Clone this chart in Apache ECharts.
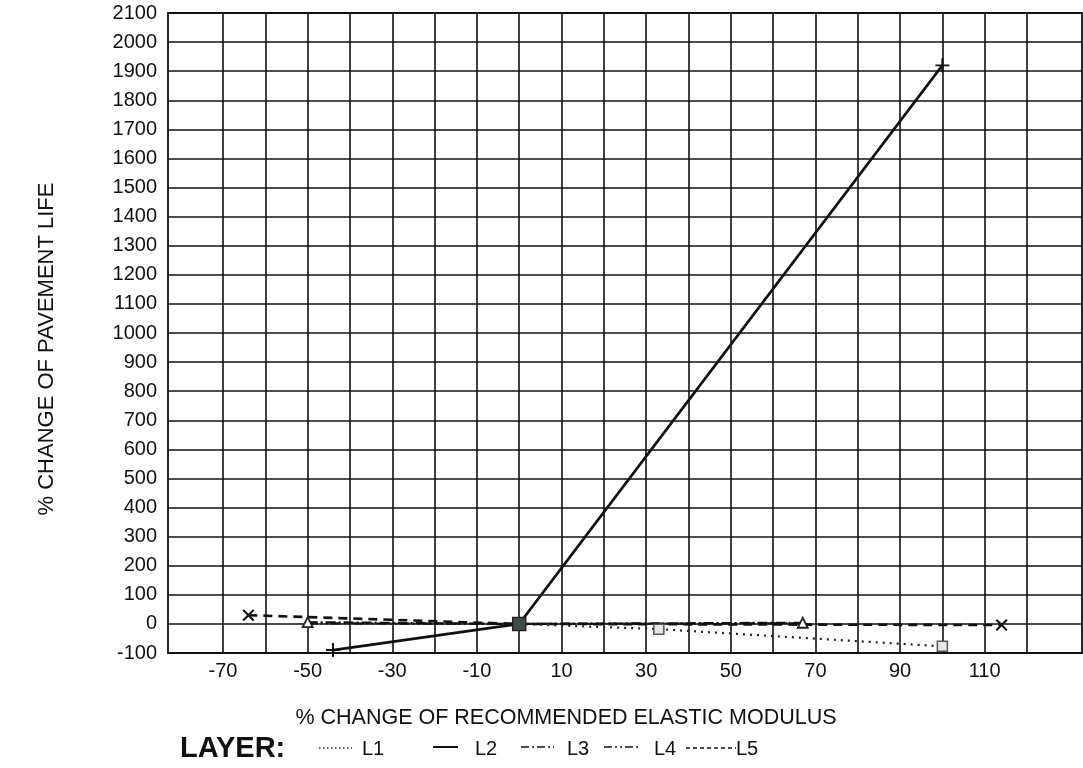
<!DOCTYPE html>
<html><head><meta charset="utf-8">
<script src="https://cdn.jsdelivr.net/npm/echarts@6/dist/echarts.min.js"></script>
<style>html,body{margin:0;padding:0;background:#fff}#c{width:1083px;height:768px}</style>
</head><body><div id="c"></div>
<script>
// ---- data ----
const xGridValues = [-70,-60,-50,-40,-30,-20,-10,0,10,20,30,40,50,60,70,80,90,100,110,120];
const xLabelValues = [-70,-50,-30,-10,10,30,50,70,90,110];
const L1 = [[0,0],[33,-18],[100,-77]];
const L2 = [[-44,-90],[0,0],[100,1920]];
const L3 = [[-50,6],[0,0],[67,4]];
const L4 = [[-50,2],[0,0],[67,2]];
const L5 = [[-64,30],[0,0],[114,-4]];
const layerNames = ['L1','L2','L3','L4','L5'];
const xTitle = '% CHANGE OF RECOMMENDED ELASTIC MODULUS';
const yTitle = '% CHANGE OF PAVEMENT LIFE';

const FONT = '"Liberation Sans", Arial, sans-serif';
const chart = echarts.init(document.getElementById('c'), null, {renderer:'canvas'});

const plus = 'path://M4.3,0H5.7V4.3H10V5.7H5.7V10H4.3V5.7H0V4.3H4.3Z';

function l1Data(){
  return L1.map(p => p[0] === 0
    ? {value:p, symbolSize:13, itemStyle:{color:'#3f4d47', borderColor:'#222', borderWidth:1.5}}
    : {value:p});
}

const option = {
  animation:false,
  backgroundColor:'#fff',
  grid:{left:168, right:1, top:13, bottom:115, show:true, borderColor:'#111', borderWidth:1.8},
  xAxis:{
    type:'value', min:-83, max:133,
    axisLine:{show:false},
    axisTick:{show:false, customValues:xGridValues},
    splitLine:{show:true, lineStyle:{color:'#111', width:1.6}},
    axisLabel:{customValues:xLabelValues, color:'#111', fontSize:20, fontFamily:FONT, margin:8,
               formatter:v => String(v)}
  },
  yAxis:{
    type:'value', min:-100, max:2100, interval:100,
    axisLine:{show:false}, axisTick:{show:false},
    splitLine:{show:true, lineStyle:{color:'#111', width:1.6}},
    axisLabel:{color:'#111', fontSize:20, fontFamily:FONT, margin:11, formatter:v => String(v)}
  },
  series:[
    {name:'L1', type:'line', data:l1Data(), symbol:'rect', symbolSize:10,
     itemStyle:{color:'#e8e8e8', borderColor:'#555', borderWidth:1.5},
     lineStyle:{color:'#222', width:2.2, type:[2,5]}, z:5},
    {name:'L2', type:'line', data:L2, symbol:plus, symbolSize:14,
     itemStyle:{color:'#111'}, lineStyle:{color:'#111', width:2.6}, z:4},
    {name:'L3', type:'line', data:L3, symbol:'triangle', symbolSize:10,
     itemStyle:{color:'#fff', borderColor:'#222', borderWidth:1.8},
     lineStyle:{color:'#111', width:2.2, type:[10,3,2,3]}, z:3},
    {name:'L4', type:'line', data:L4, symbol:'none',
     lineStyle:{color:'#111', width:2.2, type:[10,3,2,3,2,3]}, z:3},
    {name:'L5', type:'line', data:L5, symbol:plus, symbolRotate:45, symbolSize:15,
     itemStyle:{color:'#111'}, lineStyle:{color:'#111', width:2.6, type:[9,6]}, z:3}
  ],
  graphic:[
    {type:'text', x:47, y:349, rotation:Math.PI/2,
     style:{text:yTitle, font:'22px '+FONT, fill:'#111', textAlign:'center', textVerticalAlign:'middle'}},
    {type:'text', x:566, y:718,
     style:{text:xTitle, font:'21.5px '+FONT, fill:'#111', textAlign:'center', textVerticalAlign:'middle'}},
    {type:'text', x:180, y:749,
     style:{text:'LAYER:', font:'bold 29px '+FONT, fill:'#111', textAlign:'left', textVerticalAlign:'middle'}},
    {type:'line', shape:{x1:319,y1:748,x2:352,y2:748}, style:{stroke:'#333', lineWidth:1.4, lineDash:[1.5,2.5]}},
    {type:'text', x:362, y:749, style:{text:layerNames[0], font:'20px '+FONT, fill:'#111', textVerticalAlign:'middle'}},
    {type:'line', shape:{x1:433,y1:747,x2:458,y2:747}, style:{stroke:'#111', lineWidth:2}},
    {type:'text', x:475, y:749, style:{text:layerNames[1], font:'20px '+FONT, fill:'#111', textVerticalAlign:'middle'}},
    {type:'line', shape:{x1:521,y1:747,x2:554,y2:747}, style:{stroke:'#111', lineWidth:1.6, lineDash:[8,3,2,3]}},
    {type:'text', x:567, y:749, style:{text:layerNames[2], font:'20px '+FONT, fill:'#111', textVerticalAlign:'middle'}},
    {type:'line', shape:{x1:604,y1:747,x2:641,y2:747}, style:{stroke:'#111', lineWidth:1.6, lineDash:[8,3,2,3,2,3]}},
    {type:'text', x:654, y:749, style:{text:layerNames[3], font:'20px '+FONT, fill:'#111', textVerticalAlign:'middle'}},
    {type:'line', shape:{x1:686,y1:748,x2:736,y2:748}, style:{stroke:'#111', lineWidth:1.6, lineDash:[4,3]}},
    {type:'text', x:736, y:749, style:{text:layerNames[4], font:'20px '+FONT, fill:'#111', textVerticalAlign:'middle'}}
  ]
};
chart.setOption(option);
</script>
</body></html>
